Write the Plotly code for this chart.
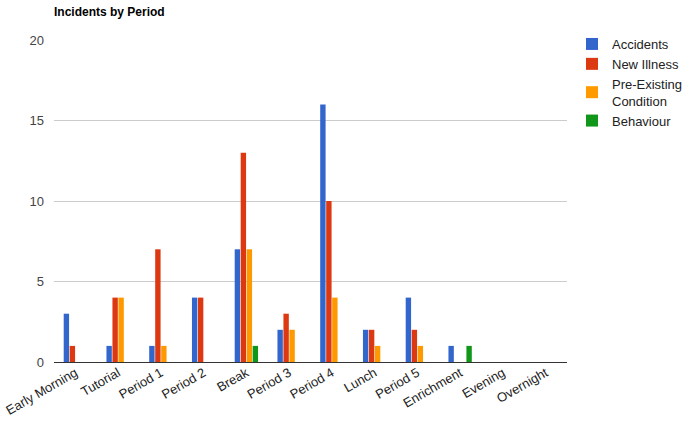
import plotly.graph_objects as go

categories = ["Early Morning", "Tutorial", "Period 1", "Period 2", "Break", "Period 3",
              "Period 4", "Lunch", "Period 5", "Enrichment", "Evening", "Overnight"]
accidents = [3, 1, 1, 4, 7, 2, 16, 2, 4, 1, 0, 0]
new_illness = [1, 4, 7, 4, 13, 3, 10, 2, 2, 0, 0, 0]
pre_existing = [0, 4, 1, 0, 7, 2, 4, 1, 1, 0, 0, 0]
behaviour = [0, 0, 0, 0, 1, 0, 0, 0, 0, 1, 0, 0]

series = [
    ("Accidents", accidents, "#3366cc"),
    ("New Illness", new_illness, "#dc3912"),
    ("Pre-Existing<br>Condition", pre_existing, "#ff9900"),
    ("Behaviour", behaviour, "#109618"),
]

fig = go.Figure()
for name, vals, color in series:
    fig.add_trace(go.Bar(x=categories, y=vals, name=name, marker_color=color,
                         marker_line_width=0))

fig.update_layout(
    width=683, height=424,
    margin=dict(l=54, r=116, t=40, b=62),
    paper_bgcolor="white", plot_bgcolor="white",
    font=dict(family="Liberation Sans, Arial, sans-serif", size=13, color="#222"),
    title=dict(text="<b>Incidents by Period</b>", x=54/683, xanchor="left",
               yref="container", y=1 - 12/424, yanchor="middle",
               font=dict(size=12, color="#000")),
    barmode="group", bargap=0.44, bargroupgap=0.1,
    showlegend=True,
    legend=dict(xref="container", yref="container", x=572/683, xanchor="left",
                y=1 - 29/424, yanchor="top",
                font=dict(size=13, color="#222"), tracegroupgap=6,
                itemwidth=30),
)
fig.update_yaxes(range=[0, 20], dtick=5, gridcolor="#cccccc", gridwidth=1,
                 zeroline=True, zerolinecolor="#333333", zerolinewidth=1,
                 tickfont=dict(size=13, color="#444"), ticks="", ticklabelstandoff=9,
                 automargin=False)
fig.update_xaxes(tickangle=-30, tickfont=dict(size=13, color="#222"), ticks="",
                 showline=False, automargin=False)

fig.write_html("out.html", config={"displayModeBar": False},
               post_script="document.body.style.margin='0';")
